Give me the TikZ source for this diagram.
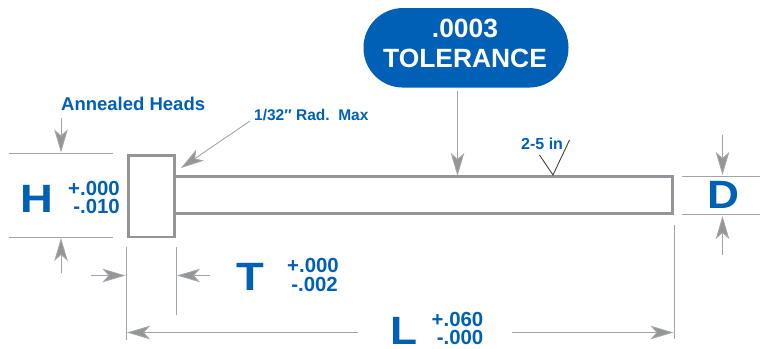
\documentclass[tikz,border=0pt]{standalone}
\usepackage{fontspec}
\setmainfont{Liberation Sans}
\usetikzlibrary{arrows.meta}
\definecolor{partblue}{HTML}{0060B5}
\definecolor{partgray}{HTML}{939598}
\newcommand{\fs}[1]{\fontsize{#1}{#1}\selectfont\bfseries}
\newcommand{\wide}[2]{\scalebox{#1}[1]{#2}}
\tikzset{
  x=1pt,y=-1pt,
  part/.style={draw=partgray,line width=2.2pt,fill=white,outer sep=0pt,inner sep=0pt},
  thin line/.style={draw=partgray!85,line width=0.9pt},
  dimarrow/.style={draw=partgray!85,line width=0.9pt,-{Stealth[length=23pt,width=13.5pt,inset=6pt,fill=partgray]}},
  big/.style={text=partblue,anchor=base,inner sep=0pt,font=\fs{39.5}},
  tol/.style={text=partblue,anchor=base east,inner sep=0pt,font=\fs{20.4}},
  small/.style={text=partblue,anchor=base west,inner sep=0pt},
  pill/.style={fill=partblue,rounded corners=39.5pt,minimum width=205pt,minimum height=79.5pt,inner sep=0pt,outer sep=0pt},
  pilltext/.style={text=white,align=center,inner sep=0pt,font=\fs{26.4}},
}
\begin{document}
\begin{tikzpicture}
\useasboundingbox (0,0) rectangle (760,348);
% part
\node[part,minimum width=498pt,minimum height=37pt,anchor=north west] (shank) at (174.5,176.5) {};
\node[part,minimum width=46pt,minimum height=81.5pt,anchor=north west] (head) at (128.5,155.5) {};
% tolerance
\node[pill] (tolbox) at (466,47.8) {};
\node[pilltext] (toltext) at (465,43.5) {.0003\\[3.3pt]TOLERANCE};
\coordinate (tolstart) at (457.5,91);
\coordinate (tolfoot) at (457.5,176);
\draw[dimarrow] (tolstart) -- (tolfoot);
% labels
\node[small,font=\fs{18.5}] (anneal) at (61,110) {Annealed Heads};
\node[small,font=\fs{15.5}] (rad) at (254,120) {1/32″ Rad.\ \ Max};
\coordinate (radstart) at (250,121);
\coordinate (radend) at (181,168);
\draw[dimarrow] (radstart) -- (radend);
% H
\node[big] (H) at (37,212) {\wide{1.15}{H}};
\node[tol] (Hp) at (120,195) {+.000};
\node[tol] (Hm) at (120,213) {-.010};
\coordinate (ha) at (9,153); \coordinate (hb) at (113,153);
\coordinate (hc) at (9,237.5); \coordinate (hd) at (113,237.5);
\draw[thin line] (ha) -- (hb);
\draw[thin line] (hc) -- (hd);
\coordinate (hu0) at (61,118); \coordinate (hu1) at (61,152.5);
\coordinate (hd0) at (61,273); \coordinate (hd1) at (61,238);
\draw[dimarrow] (hu0) -- (hu1);
\draw[dimarrow] (hd0) -- (hd1);
% T
\node[big] (T) at (250.5,290) {\wide{1.15}{T}};
\node[tol] (Tp) at (339,272) {+.000};
\node[tol] (Tm) at (338,291) {-.002};
\coordinate (ta) at (126.5,247); \coordinate (tb) at (126.5,339.5);
\coordinate (tc) at (176,247); \coordinate (td) at (176,315);
\draw[thin line] (ta) -- (tb);
\draw[thin line] (tc) -- (td);
\coordinate (tl0) at (91,275.5); \coordinate (tl1) at (125.5,275.5);
\coordinate (tr0) at (210,275.5); \coordinate (tr1) at (177,275.5);
\draw[dimarrow] (tl0) -- (tl1);
\draw[dimarrow] (tr0) -- (tr1);
% L
\node[big] (L) at (404.5,344) {\wide{1.12}{L}};
\node[tol] (Lp) at (483.5,326) {+.060};
\node[tol] (Lm) at (483.5,344) {-.000};
\coordinate (la) at (674,225); \coordinate (lb) at (674,339);
\draw[thin line] (la) -- (lb);
\coordinate (ll0) at (358,332.5); \coordinate (ll1) at (127,332.5);
\coordinate (lr0) at (512,332.5); \coordinate (lr1) at (673.5,332.5);
\draw[dimarrow] (ll0) -- (ll1);
\draw[dimarrow] (lr0) -- (lr1);
% D
\node[big] (D) at (723.5,208) {\wide{1.12}{D}};
\coordinate (da) at (682,176); \coordinate (db) at (760,176);
\coordinate (dc) at (682,214.5); \coordinate (dd) at (760,214.5);
\draw[thin line] (da) -- (db);
\draw[thin line] (dc) -- (dd);
\coordinate (du0) at (722.5,135); \coordinate (du1) at (722.5,175);
\coordinate (dd0) at (722.5,255); \coordinate (dd1) at (722.5,216);
\draw[dimarrow] (du0) -- (du1);
\draw[dimarrow] (dd0) -- (dd1);
% finish mark
\node[small,font=\fs{16}] (finish) at (521,149) {2-5 in};
\coordinate (fa) at (539.5,155); \coordinate (fb) at (553,175); \coordinate (fc) at (569.5,140);
\draw[line width=0.9pt,draw=black!75] (fa) -- (fb) -- (fc);
\end{tikzpicture}
\end{document}
